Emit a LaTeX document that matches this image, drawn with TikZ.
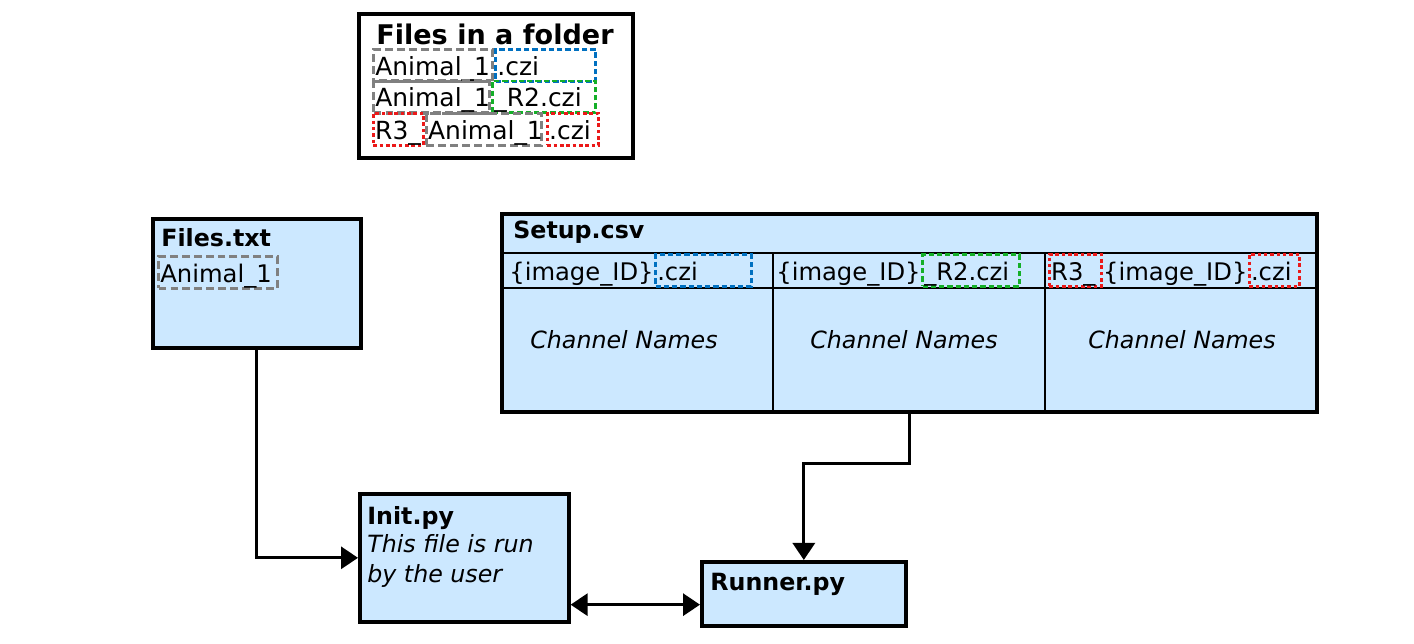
\documentclass[tikz,border=0pt]{standalone}
\usepackage{fontspec}
\setmainfont{DejaVu Sans}
\usepackage{xcolor}
\usetikzlibrary{positioning, arrows.meta}

\definecolor{boxblue}{RGB}{204,232,255}
\definecolor{idgray}{RGB}{128,128,128}
\definecolor{extblue}{RGB}{0,112,192}
\definecolor{extgreen}{RGB}{20,175,40}
\definecolor{extred}{RGB}{235,25,25}

\begin{document}
\begin{tikzpicture}[
        x=0.02cm, y=-0.02cm, >={Triangle[length=0.34cm, width=0.44cm]},
        every node/.style={font=\fontsize{13.8}{16}\selectfont},
        box/.style={rectangle, draw, line width=2.1pt, fill=boxblue, anchor=north west, inner sep=0pt},
        folder/.style={box, fill=white},
        title/.style={anchor=base west, inner sep=0pt, font=\fontsize{13.5}{16}\selectfont\bfseries},
        note/.style={anchor=base west, inner sep=0pt, font=\fontsize{13.5}{16}\selectfont\itshape},
        colname/.style={inner sep=0pt, font=\fontsize{13.5}{16}\selectfont\itshape},
        part/.style={rectangle, inner xsep=1pt, inner ysep=0pt, text height=12pt, text depth=1pt, minimum height=0.64cm, align=left, anchor=west},
        plain/.style={part, inner xsep=0pt},
        bigpart/.style={font=\fontsize{14.2}{17}\selectfont},
        idtag/.style={part, draw=idgray, line width=1.8pt, dash pattern=on 4.5pt off 2.3pt},
        bluetag/.style={part, draw=extblue, line width=1.7pt, dash pattern=on 3pt off 1.7pt},
        greentag/.style={part, draw=extgreen, line width=1.7pt, dash pattern=on 3pt off 1.7pt},
        redtag/.style={part, draw=extred, line width=1.6pt, dash pattern=on 2pt off 1.6pt},
        grid/.style={line width=1.3pt},
        arrow/.style={->, line width=1.8pt},
    ]
    \useasboundingbox (0,0) rectangle (1414,644);
    % files in a folder
    \node[folder, minimum width=5.48cm, minimum height=2.88cm] (folder) at (357,12) {};
    \node[title, font=\fontsize{15.4}{18}\selectfont\bfseries] (foldertitle) at (376,45) {Files in a folder};
    \node[idtag, bigpart, text width=2.31cm] (f1id) at (372,65.5) {Animal\_1};
    \node[bluetag, bigpart, text width=1.93cm, right=0pt of f1id] (f1ext) {.czi};
    \node[idtag, bigpart, text width=2.25cm] (f2id) at (372,97) {Animal\_1};
    \node[greentag, bigpart, text width=1.99cm, right=0pt of f2id] (f2ext) {\_R2.czi};
    \node[redtag, bigpart, text width=0.93cm] (f3pre) at (372,129.5) {R3\_};
    \node[idtag, bigpart, text width=2.23cm, right=0pt of f3pre] (f3id) {Animal\_1};
    \node[redtag, bigpart, text width=0.95cm, right=0.06cm of f3id] (f3ext) {.czi};
    % Files.txt
    \node[box, minimum width=4.16cm, minimum height=2.58cm] (files) at (151,217) {};
    \node[title] (filestitle) at (161,247) {Files.txt};
    \node[idtag, text width=2.31cm] (filesid) at (157,272.5) {Animal\_1};
    % Setup.csv
    \node[box, line width=2.2pt, minimum width=16.3cm, minimum height=3.96cm] (setup) at (500,212) {};
    \node[title] (setuptitle) at (513,239) {Setup.csv};
    \draw[grid] ([yshift=-0.82cm]setup.north west) -- ([yshift=-0.82cm]setup.north east);
    \draw[grid] ([yshift=-1.52cm]setup.north west) -- ([yshift=-1.52cm]setup.north east);
    \draw[grid] ([xshift=5.46cm, yshift=-0.82cm]setup.north west) -- ([xshift=5.46cm]setup.south west);
    \draw[grid] ([xshift=10.9cm, yshift=-0.82cm]setup.north west) -- ([xshift=10.9cm]setup.south west);
    \node[plain] (s1id) at (509,270.5) {\{image\_ID\}};
    \node[bluetag, text width=1.85cm, right=0pt of s1id] (s1ext) {.czi};
    \node[plain] (s2id) at (776,270.5) {\{image\_ID\}};
    \node[greentag, text width=1.87cm, right=0pt of s2id] (s2ext) {\_R2.czi};
    \node[redtag, text width=0.97cm] (s3pre) at (1048,270.5) {R3\_};
    \node[plain, right=0pt of s3pre] (s3id) {\{image\_ID\}};
    \node[redtag, text width=0.93cm, right=0pt of s3id] (s3ext) {.czi};
    \node[colname] (s1names) at (624,340) {Channel Names};
    \node[colname] (s2names) at (904,340) {Channel Names};
    \node[colname] (s3names) at (1182,340) {Channel Names};
    % Init.py and Runner.py
    \node[box, minimum width=4.18cm, minimum height=2.56cm] (init) at (358,492) {};
    \node[title] (inittitle) at (367,525) {Init.py};
    \node[note] (initnote1) at (367,553) {This file is run};
    \node[note] (initnote2) at (367,583) {by the user};
    \node[box, minimum width=4.08cm, minimum height=1.28cm] (runner) at (700,560) {};
    \node[title] (runnertitle) at (710,591) {Runner.py};
    % connectors
    \coordinate (linkstart) at ([yshift=0.38cm]init.south east);
    \draw[arrow] (files.south) |- (init.west);
    \draw[arrow] (setup.south) -- ++(0,50) -| (runner.north);
    \draw[arrow, <->] (linkstart) -- (linkstart -| runner.west);
\end{tikzpicture}
\end{document}
